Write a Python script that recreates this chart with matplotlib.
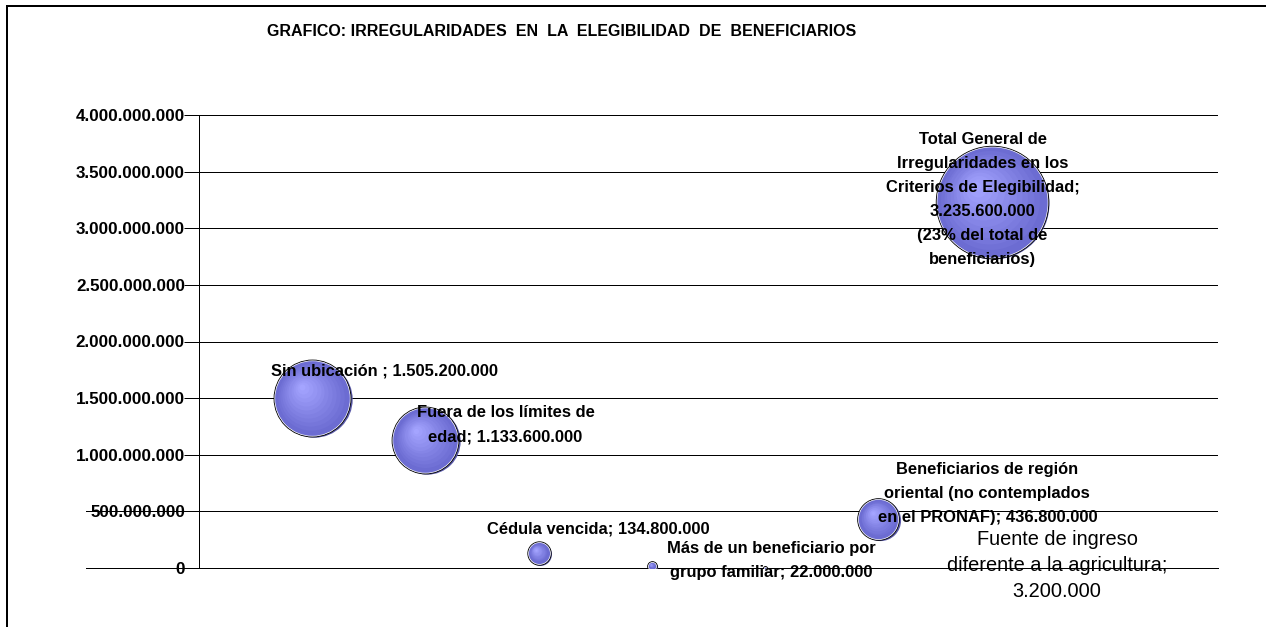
import numpy as np
import matplotlib
matplotlib.use("Agg")
import matplotlib.pyplot as plt
from matplotlib.patches import Rectangle
from matplotlib.transforms import ScaledTranslation
from matplotlib.colors import to_rgb

#------DATA-------#

categories = ["Sin ubicación",
              "Fuera de los límites de edad",
              "Cédula vencida",
              "Más de un beneficiario por grupo familiar",
              "Fuente de ingreso diferente a la agricultura",
              "Beneficiarios de región oriental (no contemplados en el PRONAF)",
              "Total General de Irregularidades en los Criterios de Elegibilidad"]

x_pos = [1, 2, 3, 4, 5, 6, 7]

values = [1505200000, 1133600000, 134800000, 22000000,
          3200000, 436800000, 3235600000]

labels = ["Sin ubicación ; 1.505.200.000",
          "Fuera de los límites de\nedad; 1.133.600.000",
          "Cédula vencida; 134.800.000",
          "Más de un beneficiario por\ngrupo familiar; 22.000.000",
          "Fuente de ingreso\ndiferente a la agricultura;\n3.200.000",
          "Beneficiarios de región\noriental (no contemplados\nen el PRONAF); 436.800.000",
          "Total General de\nIrregularidades en los\nCriterios de Elegibilidad;\n3.235.600.000\n(23% del total de\nbeneficiarios)"]

# label offsets (points) from bubble centre
label_dx = [72, 80, 60, 119, 292, 109, -9]
label_dy = [27, 15, 24, 5, 2, 25, 2]

yticks = np.arange(0, 4000000001, 500000000)
ytick_labels = ["0" if v == 0 else f"{v:,}".replace(",", ".") for v in yticks]

plot_title = "GRAFICO: IRREGULARIDADES  EN  LA  ELEGIBILIDAD  DE  BENEFICIARIOS"

#------FIGURE-------#

plt.rcParams['font.family'] = ['Liberation Sans', 'DejaVu Sans']

fig = plt.figure(figsize=(1266 / 72, 627 / 72), dpi=72)
ax = fig.add_axes([199 / 1266, 1 - 568 / 627, (1218 - 199) / 1266, (568 - 115) / 627])

# outer frame of the chart object
fig.patches.append(Rectangle((7 / 1266, -0.2), 1.2, 1.2 - 6 / 627,
                             transform=fig.transFigure, fill=False,
                             edgecolor='black', lw=2))

ax.set_xlim(0, 9)
ax.set_ylim(0, 4000000000)
ax.set_yticks(yticks)
ax.set_yticklabels(ytick_labels, fontsize=17, fontweight='bold')
ax.set_xticks([])
ax.tick_params(axis='y', length=15, width=1, pad=-1, direction='out')
ax.grid(axis='y', color='black', lw=1)
ax.set_axisbelow(True)
for s in ['top', 'right']:
    ax.spines[s].set_visible(False)
ax.spines['left'].set_linewidth(1)
ax.spines['bottom'].set_linewidth(1)

# stray lines at left of 0 and 500M rows
for v in [0, 500000000]:
    ax.plot([-0.111, 0], [v / 4000000000] * 2, transform=ax.transAxes,
            color='black', lw=1, clip_on=False)

# bubbles: area proportional to value
smax = (2 * 56) ** 2
vmax = max(values)
c_out = np.array(to_rgb('#6c6cd2'))
c_in = np.array(to_rgb('#a4a4ff'))
n_layers = 12

for xi, v in zip(x_pos, values):
    s = smax * v / vmax
    r = np.sqrt(s) / 2
    shadow = ax.transData + ScaledTranslation(1.5 / 72, -1.5 / 72, fig.dpi_scale_trans)
    ax.scatter([xi], [v], s=s, color='#5a5aa8', transform=shadow, zorder=3, lw=0)
    ax.scatter([xi], [v], s=s, color=c_out, edgecolor='black', lw=1.4, zorder=4)
    ax.scatter([xi], [v], s=max(s - 4 * r, 1), color=c_out, edgecolor='white',
               lw=0.7, zorder=4.5)
    for k in range(1, n_layers):
        f = 1 - k / n_layers
        rr = (r - 2) * f
        if rr <= 0.5:
            continue
        col = c_out + (c_in - c_out) * (k / (n_layers - 1))
        off = (1 - f) * 0.3 * r
        tr = ax.transData + ScaledTranslation(-off / 72, off / 72, fig.dpi_scale_trans)
        ax.scatter([xi], [v], s=(2 * rr) ** 2, color=col, lw=0,
                   transform=tr, zorder=5)

for i, (xi, v) in enumerate(zip(x_pos, values)):
    regular = i == 4
    ax.annotate(labels[i], xy=(xi, v), xytext=(label_dx[i], label_dy[i]),
                textcoords='offset points', ha='center', va='center',
                multialignment='center',
                fontsize=20 if regular else 16.5,
                fontweight='normal' if regular else 'bold',
                linespacing=1.47 if regular else 1.74,
                color='black', zorder=6, annotation_clip=False)

fig.text(562 / 1266, 1 - 31 / 627, plot_title, ha='center', va='center',
         fontsize=16, fontweight='bold')

fig.savefig('out.png', dpi=72)
